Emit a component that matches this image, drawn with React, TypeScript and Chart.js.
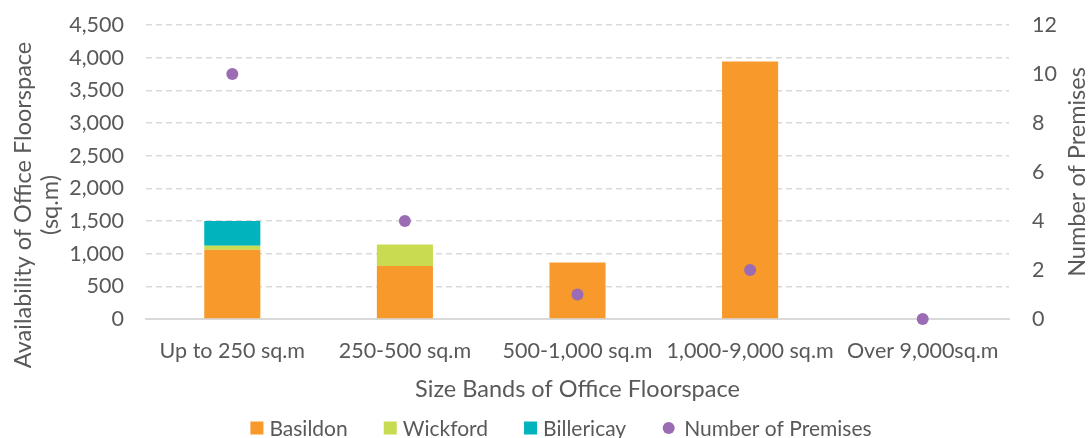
import React, { useEffect, useRef } from 'react';
import { Chart, registerables } from 'chart.js';

Chart.register(...registerables);

// Size bands (x axis)
const categories = ['Up to 250 sq.m', '250-500 sq.m', '500-1,000 sq.m', '1,000-9,000 sq.m', 'Over 9,000sq.m'];

// Available office floorspace by town (sq.m), stacked
const basildon = [1060, 810, 865, 3940, 0];
const wickford = [60, 330, 0, 0, 0];
const billericay = [380, 0, 0, 0, 0];

// Number of premises in each band (right axis)
const premises = [10, 4, 1, 2, 0];

const FONT = 'Lato, "Open Sans", sans-serif';
const TEXT = '#595959';
const GRID = '#D9D9D9';

const COLORS = {
  basildon: '#F7992B',
  wickford: '#C9DC51',
  billericay: '#00B3BD',
  premises: '#9B6BB4',
};

const TICK_SIZE = 21.5;
const TITLE_SIZE = 23.5;
const LEGEND_SIZE = 21;

// Axis titles placed around the plot area
const axisTitles = {
  id: 'axisTitles',
  afterDraw(chart: any) {
    const { ctx, chartArea } = chart;
    ctx.save();
    ctx.fillStyle = TEXT;
    ctx.font = `${TITLE_SIZE}px ${FONT}`;
    ctx.textAlign = 'center';
    ctx.textBaseline = 'middle';

    // left title, two lines
    ctx.save();
    ctx.translate(23, 205);
    ctx.rotate(-Math.PI / 2);
    ctx.fillText('Availability of Office Floorspace', 0, 0);
    ctx.restore();
    ctx.save();
    ctx.translate(50, 205);
    ctx.rotate(-Math.PI / 2);
    ctx.fillText('(sq.m)', 0, 0);
    ctx.restore();

    // right title
    ctx.save();
    ctx.translate(1077, (chartArea.top + chartArea.bottom) / 2);
    ctx.rotate(-Math.PI / 2);
    ctx.fillText('Number of Premises', 0, 0);
    ctx.restore();

    // bottom title
    ctx.fillText('Size Bands of Office Floorspace', (chartArea.left + chartArea.right) / 2, 389);
    ctx.restore();
  },
};

// Single-row legend under the x axis title
const bottomLegend = {
  id: 'bottomLegend',
  afterDraw(chart: any) {
    const { ctx } = chart;
    const box = 13;
    const boxGap = 6;
    const dotGap = 9;
    const itemGap = 36;
    const y = 428;
    ctx.save();
    ctx.font = `${LEGEND_SIZE}px ${FONT}`;
    ctx.textBaseline = 'middle';
    ctx.textAlign = 'left';
    const items = chart.data.datasets.map((ds: any) => ({
      label: ds.label as string,
      color: ds.backgroundColor as string,
      dot: ds.type === 'line',
    }));
    const widths = items.map((it: any) => box + (it.dot ? dotGap : boxGap) + ctx.measureText(it.label).width);
    const total = widths.reduce((a: number, b: number) => a + b, 0) + itemGap * (items.length - 1);
    let x = 561 - total / 2;
    items.forEach((it: any, i: number) => {
      ctx.fillStyle = it.color;
      if (it.dot) {
        ctx.beginPath();
        ctx.arc(x + box / 2, y, 6, 0, Math.PI * 2);
        ctx.fill();
      } else {
        ctx.fillRect(x, y - box / 2, box, box);
      }
      ctx.fillStyle = TEXT;
      ctx.fillText(it.label, x + box + (it.dot ? dotGap : boxGap), y + 1);
      x += widths[i] + itemGap;
    });
    ctx.restore();
  },
};

// Keep the plot area edges exactly where the layout puts them
const noEdgePadding = (scale: any) => {
  scale.paddingTop = 0;
  scale.paddingBottom = 0;
};

export default function App() {
  const canvasRef = useRef<HTMLCanvasElement>(null);

  useEffect(() => {
    document.body.style.margin = '0';
    const canvas = canvasRef.current;
    if (!canvas) return;

    const chart = new Chart(canvas, {
      type: 'bar',
      data: {
        labels: categories,
        datasets: [
          {
            type: 'bar',
            label: 'Basildon',
            data: basildon,
            backgroundColor: COLORS.basildon,
            stack: 'space',
            yAxisID: 'y',
            order: 1,
            barPercentage: 0.325,
            categoryPercentage: 1,
          },
          {
            type: 'bar',
            label: 'Wickford',
            data: wickford,
            backgroundColor: COLORS.wickford,
            stack: 'space',
            yAxisID: 'y',
            order: 1,
            barPercentage: 0.325,
            categoryPercentage: 1,
          },
          {
            type: 'bar',
            label: 'Billericay',
            data: billericay,
            backgroundColor: COLORS.billericay,
            stack: 'space',
            yAxisID: 'y',
            order: 1,
            barPercentage: 0.325,
            categoryPercentage: 1,
          },
          {
            type: 'line',
            label: 'Number of Premises',
            data: premises,
            yAxisID: 'y1',
            showLine: false,
            backgroundColor: COLORS.premises,
            borderColor: COLORS.premises,
            pointRadius: 6,
            pointHoverRadius: 6,
            pointBorderWidth: 0,
            order: 0,
            clip: false,
          } as any,
        ],
      },
      options: {
        responsive: false,
        maintainAspectRatio: false,
        animation: false,
        events: [],
        layout: { padding: { top: 25, left: 0, right: 0, bottom: 0 } },
        plugins: {
          legend: { display: false },
          tooltip: { enabled: false },
          title: { display: false },
        },
        scales: {
          x: {
            stacked: true,
            grid: { display: false, drawTicks: false },
            border: { display: true, color: GRID, width: 2 },
            ticks: {
              color: TEXT,
              font: { family: FONT, size: TICK_SIZE },
              padding: 19,
              maxRotation: 0,
              autoSkip: false,
            },
            afterFit: (scale: any) => {
              scale.height = 119;
              scale.paddingLeft = 0;
              scale.paddingRight = 0;
            },
          },
          y: {
            stacked: true,
            position: 'left',
            min: 0,
            max: 4500,
            grid: { color: GRID, lineWidth: 1.5, drawTicks: false },
            border: { display: false, dash: [6, 4] },
            ticks: {
              stepSize: 500,
              color: TEXT,
              font: { family: FONT, size: TICK_SIZE },
              padding: 22,
              callback: (v: any) => Number(v).toLocaleString('en-US'),
            },
            afterFit: (scale: any) => {
              scale.width = 146;
              noEdgePadding(scale);
            },
          },
          y1: {
            position: 'right',
            stacked: false,
            min: 0,
            max: 12,
            grid: { display: false, drawTicks: false },
            border: { display: false },
            ticks: {
              stepSize: 2,
              color: TEXT,
              font: { family: FONT, size: TICK_SIZE },
              padding: 23,
            },
            afterFit: (scale: any) => {
              scale.width = 79;
              noEdgePadding(scale);
            },
          },
        },
      },
      plugins: [axisTitles, bottomLegend],
    });

    return () => chart.destroy();
  }, []);

  return (
    <div style={{ width: 1088, height: 438, position: 'relative' }}>
      <canvas ref={canvasRef} width={1088} height={438} style={{ display: 'block' }} />
    </div>
  );
}
